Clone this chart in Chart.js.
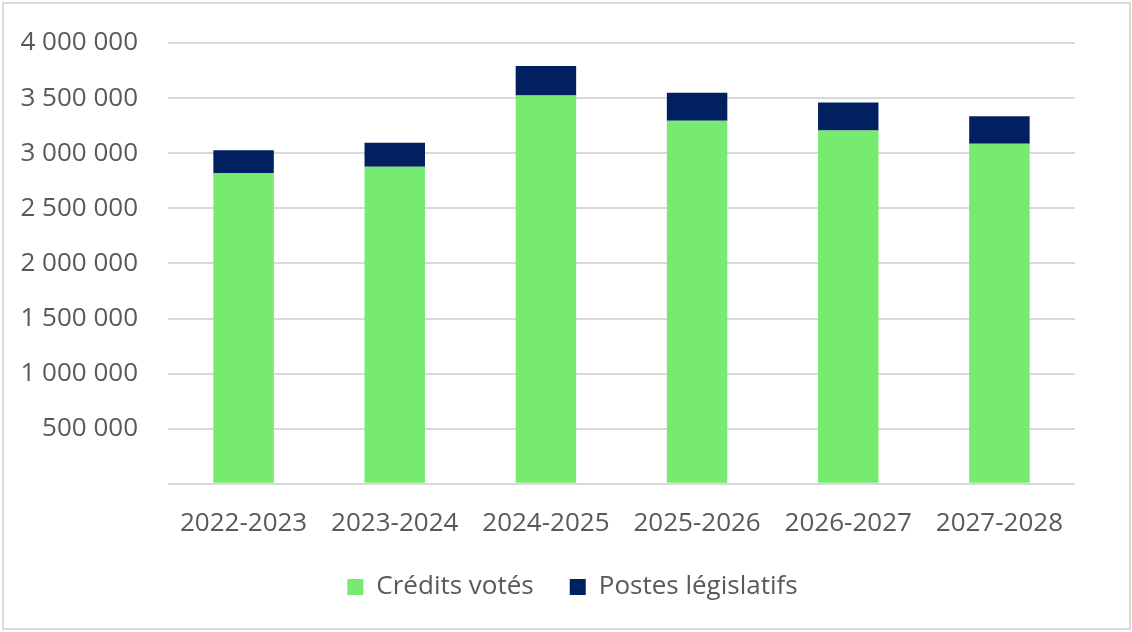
<!DOCTYPE html>
<html lang="fr">
<head>
    <meta charset="UTF-8">
    <title>Crédits votés et postes législatifs</title>
    <script src="https://cdn.jsdelivr.net/npm/chart.js"></script>
    <style>
        body { margin: 0; background: #fff; }
        #wrap { position: relative; width: 1132px; height: 632px; }
        #frame {
            position: absolute; left: 2px; top: 2px; width: 1125px; height: 624px;
            border: 2px solid #d9d9d9; pointer-events: none;
        }
    </style>
</head>
<body>
<div id="wrap">
    <canvas id="chart" width="1132" height="632"></canvas>
    <div id="frame"></div>
</div>

<script>
    // fiscal years on the x axis
    const years = ['2022-2023', '2023-2024', '2024-2025', '2025-2026', '2026-2027', '2027-2028'];

    // values
    const creditsVotes = [2821000, 2876000, 3524000, 3294000, 3206000, 3085000];
    const postesLegislatifs = [206000, 218000, 267000, 254000, 255000, 251000];

    const textColor = '#595959';
    const font = { family: '"Open Sans", sans-serif', size: 26 };

    // 4 000 000 style, zero left blank
    const formatTick = v => v === 0 ? '' : String(v).replace(/\B(?=(\d{3})+(?!\d))/g, ' ');

    // nudge the legend a bit to the right, like the original
    const legendShift = {
        id: 'legendShift',
        afterLayout(chart) {
            chart.legend.left += 25;
            chart.legend.right += 25;
        }
    };

    new Chart(document.getElementById('chart'), {
        type: 'bar',
        data: {
            labels: years,
            datasets: [
                {
                    label: 'Crédits votés',
                    data: creditsVotes,
                    backgroundColor: '#76eb70'
                },
                {
                    label: 'Postes législatifs',
                    data: postesLegislatifs,
                    backgroundColor: '#002060'
                }
            ]
        },
        options: {
            responsive: false,
            animation: false,
            devicePixelRatio: 1,
            layout: { padding: { left: 20, right: 57, top: 43, bottom: 22 } },
            datasets: { bar: { barPercentage: 0.4, categoryPercentage: 1.0 } },
            plugins: {
                legend: {
                    position: 'bottom',
                    labels: {
                        color: textColor,
                        font: font,
                        boxWidth: 16,
                        boxHeight: 16,
                        padding: 36
                    }
                },
                tooltip: { enabled: false }
            },
            scales: {
                x: {
                    stacked: true,
                    grid: { display: false },
                    border: { display: false },
                    ticks: { color: textColor, font: font, padding: 16 },
                    afterFit: scale => { scale.height -= 17; }
                },
                y: {
                    stacked: true,
                    min: 0,
                    max: 4000000,
                    border: { display: false },
                    grid: { color: '#d9d9d9', lineWidth: 2, drawTicks: false },
                    ticks: {
                        stepSize: 500000,
                        color: textColor,
                        font: font,
                        padding: 30,
                        callback: formatTick
                    },
                    afterFit: scale => {
                        scale.width = 148;
                        scale.paddingTop = 0;
                    }
                }
            }
        },
        plugins: [legendShift]
    });
</script>
</body>
</html>
